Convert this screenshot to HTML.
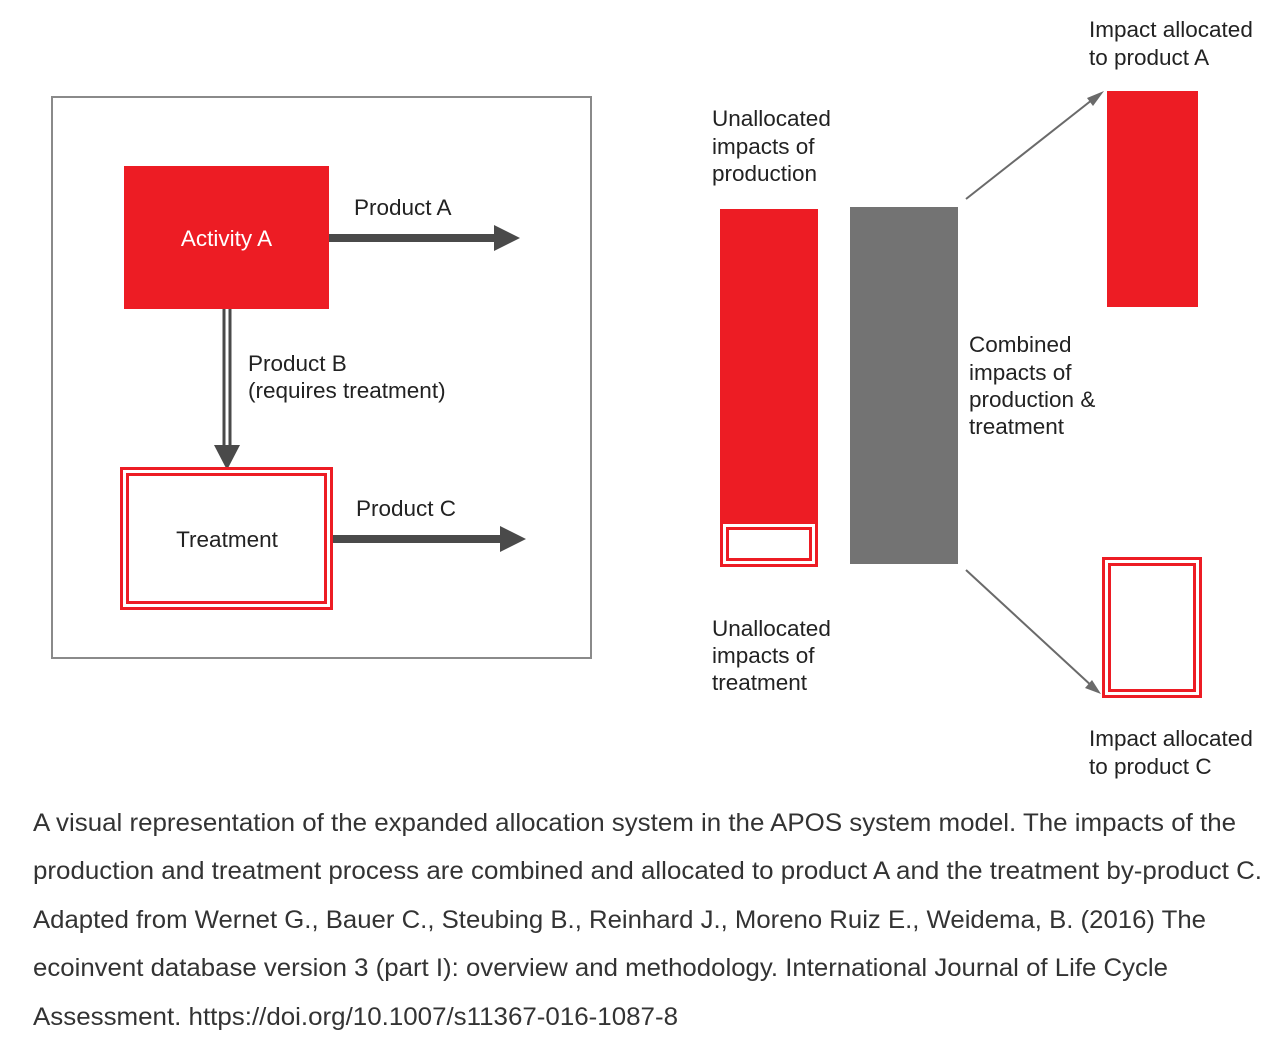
<!DOCTYPE html>
<html><head><meta charset="utf-8"><style>
html,body{margin:0;padding:0;background:#fff;}
svg{display:block;}
text{font-family:"Liberation Sans",Arial,sans-serif;}
</style></head><body>
<svg width="1273" height="1047" viewBox="0 0 1273 1047" xmlns="http://www.w3.org/2000/svg">
<rect width="1273" height="1047" fill="#fff"/>
<rect x="52" y="97" width="539" height="561" fill="none" stroke="#8a8a8a" stroke-width="2"/>
<rect x="124" y="166" width="205" height="143" fill="#ed1c24"/>
<text x="226.5" y="246" font-size="22.5" fill="#fff" text-anchor="middle">Activity A</text>
<rect x="329" y="234" width="168" height="8" fill="#4a4a4a"/>
<polygon points="494,225 520,238 494,251" fill="#4a4a4a"/>
<text x="354" y="215" font-size="22.5" fill="#222">Product A</text>
<line x1="224" y1="309" x2="224" y2="448" stroke="#4a4a4a" stroke-width="3"/>
<line x1="230" y1="309" x2="230" y2="448" stroke="#4a4a4a" stroke-width="3"/>
<polygon points="214,445 240,445 227,470" fill="#4a4a4a"/>
<text x="248" y="371" font-size="22.5" fill="#222">Product B</text>
<text x="248" y="398" font-size="22.5" fill="#222">(requires treatment)</text>
<rect x="121.5" y="468.5" width="210" height="140" fill="#fff" stroke="#ed1c24" stroke-width="3"/>
<rect x="127.5" y="474.5" width="198" height="128" fill="none" stroke="#ed1c24" stroke-width="3"/>
<text x="227" y="547" font-size="22.5" fill="#222" text-anchor="middle">Treatment</text>
<rect x="333" y="535" width="170" height="8" fill="#4a4a4a"/>
<polygon points="500,526 526,539 500,552" fill="#4a4a4a"/>
<text x="356" y="516" font-size="22.5" fill="#222">Product C</text>
<text font-size="22.5" fill="#222"><tspan x="712" y="126">Unallocated</tspan><tspan x="712" y="154">impacts of</tspan><tspan x="712" y="181">production</tspan></text>
<rect x="720" y="209" width="98" height="313" fill="#ed1c24"/>
<rect x="721.5" y="522.5" width="95" height="43" fill="#fff" stroke="#ed1c24" stroke-width="3"/>
<rect x="727.5" y="528.5" width="83" height="31" fill="none" stroke="#ed1c24" stroke-width="3"/>
<rect x="850" y="207" width="108" height="357" fill="#737373"/>
<text font-size="22.5" fill="#222"><tspan x="969" y="352">Combined</tspan><tspan x="969" y="380">impacts of</tspan><tspan x="969" y="407">production &amp;</tspan><tspan x="969" y="434">treatment</tspan></text>
<text font-size="22.5" fill="#222"><tspan x="712" y="636">Unallocated</tspan><tspan x="712" y="663">impacts of</tspan><tspan x="712" y="690">treatment</tspan></text>
<text font-size="22.5" fill="#222"><tspan x="1089" y="37">Impact allocated</tspan><tspan x="1089" y="65">to product A</tspan></text>
<rect x="1107" y="91" width="91" height="216" fill="#ed1c24"/>
<rect x="1103.5" y="558.5" width="97" height="138" fill="#fff" stroke="#ed1c24" stroke-width="3"/>
<rect x="1109.5" y="564.5" width="85" height="126" fill="none" stroke="#ed1c24" stroke-width="3"/>
<text font-size="22.5" fill="#222"><tspan x="1089" y="746">Impact allocated</tspan><tspan x="1089" y="774">to product C</tspan></text>
<line x1="966" y1="199" x2="1097" y2="96" stroke="#6a6a6a" stroke-width="2"/>
<polygon points="1104,91 1093,106 1087,98" fill="#6a6a6a"/>
<line x1="966" y1="570" x2="1094" y2="688" stroke="#6a6a6a" stroke-width="2"/>
<polygon points="1101,694 1085,688 1092,680" fill="#6a6a6a"/>
<g font-size="25" fill="#333">
<text x="33" y="831" textLength="1203" lengthAdjust="spacingAndGlyphs">A visual representation of the expanded allocation system in the APOS system model. The impacts of the</text>
<text x="33" y="879" textLength="1229" lengthAdjust="spacingAndGlyphs">production and treatment process are combined and allocated to product A and the treatment by-product C.</text>
<text x="33" y="928" textLength="1173" lengthAdjust="spacingAndGlyphs">Adapted from Wernet G., Bauer C., Steubing B., Reinhard J., Moreno Ruiz E., Weidema, B. (2016) The</text>
<text x="33" y="976" textLength="1135" lengthAdjust="spacingAndGlyphs">ecoinvent database version 3 (part I): overview and methodology. International Journal of Life Cycle</text>
<text x="33" y="1025" textLength="645" lengthAdjust="spacingAndGlyphs">Assessment. https://doi.org/10.1007/s11367-016-1087-8</text>
</g>
</svg>
</body></html>
